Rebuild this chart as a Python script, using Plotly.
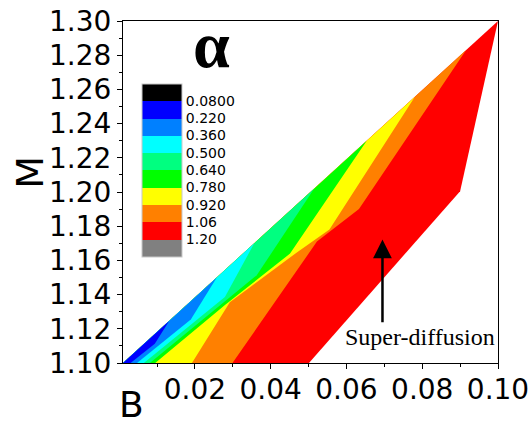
import plotly.graph_objects as go

# ---- contour levels / legend ----
levels = [0.08, 0.22, 0.36, 0.50, 0.64, 0.78, 0.92, 1.06, 1.20]
level_labels = ['0.0800', '0.220', '0.360', '0.500', '0.640', '0.780', '0.920', '1.06', '1.20']
band_colors = ['#000000', '#0000ff', '#0080ff', '#00ffff', '#00ff80',
               '#00ff00', '#ffff00', '#ff8000', '#ff0000', '#808080']

# ---- data domain (B, M) ----
domain_B = [0.001, 0.0501, 0.0900, 0.100]
domain_M = [1.10, 1.10, 1.2005, 1.30]

# ---- iso-alpha lines (B, M), bottom -> upper edge ----
iso_022_B = [0.0030, 0.0094, 0.01318]
iso_022_M = [1.10, 1.1113, 1.1246]
iso_036_B = [0.0047, 0.0189, 0.02575]
iso_036_M = [1.10, 1.1255, 1.150]
iso_050_B = [0.0065, 0.0279, 0.03565]
iso_050_M = [1.10, 1.1386, 1.170]
iso_064_B = [0.0081, 0.0363, 0.05149]
iso_064_M = [1.10, 1.1513, 1.202]
iso_078_B = [0.0095, 0.0280, 0.0451, 0.06535]
iso_078_M = [1.10, 1.134, 1.164, 1.230]
iso_092_B = [0.0192, 0.0292, 0.0468, 0.0555, 0.07802]
iso_092_M = [1.10, 1.1355, 1.1645, 1.178, 1.2556]
iso_106_B = [0.0299, 0.0522, 0.0633, 0.09159]
iso_106_M = [1.10, 1.171, 1.190, 1.283]

x_ticks = [0.02, 0.04, 0.06, 0.08, 0.10]
x_ticktext = ['0.02', '0.04', '0.06', '0.08', '0.10']
y_ticks = [1.10, 1.12, 1.14, 1.16, 1.18, 1.20, 1.22, 1.24, 1.26, 1.28, 1.30]
y_ticktext = ['%.2f' % v for v in y_ticks]

fig = go.Figure()

# whole domain: highest band (red)
fig.add_trace(go.Scatter(x=domain_B + [domain_B[0]], y=domain_M + [domain_M[0]],
                         mode='lines', fill='toself', fillcolor=band_colors[8],
                         line=dict(width=0, color=band_colors[8]),
                         hoverinfo='skip', showlegend=False))

isolines = [(7, iso_106_B, iso_106_M), (6, iso_092_B, iso_092_M),
            (5, iso_078_B, iso_078_M), (4, iso_064_B, iso_064_M),
            (3, iso_050_B, iso_050_M), (2, iso_036_B, iso_036_M),
            (1, iso_022_B, iso_022_M)]
cB, cM = domain_B[0], domain_M[0]
for idx, bs, ms in isolines:
    fig.add_trace(go.Scatter(x=[cB] + bs + [cB], y=[cM] + ms + [cM],
                             mode='lines', fill='toself', fillcolor=band_colors[idx],
                             line=dict(width=0, color=band_colors[idx]),
                             hoverinfo='skip', showlegend=False))

# legend as a colorbar (low values at the top, as in the original)
n = len(band_colors)
lo = -(levels[-1] + 0.14)
hi = -(levels[0] - 0.14)
cs = []
for i, c in enumerate(reversed(band_colors)):
    cs.append([i / n, c])
    cs.append([(i + 1) / n, c])
fig.add_trace(go.Scatter(x=[None], y=[None], mode='markers',
                         marker=dict(color=[-0.5], colorscale=cs, cmin=lo, cmax=hi,
                                     showscale=True,
                                     colorbar=dict(x=0.0506, xanchor='left', xpad=0,
                                                   y=0.5643, yanchor='middle', ypad=0,
                                                   len=172.7, lenmode='pixels',
                                                   thickness=40, thicknessmode='pixels',
                                                   outlinewidth=1, outlinecolor='#c8c8c8',
                                                   tickmode='array',
                                                   tickvals=[-v for v in levels],
                                                   ticktext=level_labels, ticks='',
                                                   tickfont=dict(family='DejaVu Sans', size=14,
                                                                 color='black'))),
                         hoverinfo='skip', showlegend=False))

axis_common = dict(showline=True, linecolor='black', linewidth=1, mirror=True,
                   ticks='outside', ticklen=5, tickwidth=1, tickcolor='black',
                   showgrid=False, zeroline=False, automargin=False,
                   tickfont=dict(family='DejaVu Sans', size=28, color='black'))

fig.update_xaxes(range=[0.001, 0.1], tickmode='array', tickvals=x_ticks, ticktext=x_ticktext,
                 ticklabelstandoff=-4,
                 minor=dict(tickmode='linear', tick0=0, dtick=0.01, ticks='outside',
                            ticklen=3, tickcolor='black'),
                 **axis_common)
fig.update_yaxes(range=[1.10, 1.30], tickmode='array', tickvals=y_ticks, ticktext=y_ticktext,
                 minor=dict(tickmode='linear', tick0=1.10, dtick=0.01, ticks='outside',
                            ticklen=3, tickcolor='black'),
                 **axis_common)

annotations = [
    dict(text='<b>α</b>', x=0.2373, y=0.931, xref='paper', yref='paper',
         xanchor='center', yanchor='middle', showarrow=False,
         font=dict(family='Liberation Serif', size=66, color='black')),
    dict(text='Super-diffusion', x=0.0794, y=1.1151, xref='x', yref='y',
         xanchor='center', yanchor='middle', showarrow=False,
         font=dict(family='Liberation Serif', size=24, color='black')),
    dict(text='', x=0.0695, y=1.1722, xref='x', yref='y',
         ax=0.0695, ay=1.1230, axref='x', ayref='y', showarrow=True,
         arrowhead=2, arrowsize=1.5, arrowwidth=2.5, arrowcolor='black'),
    dict(text='M', x=-0.2484, y=0.559, xref='paper', yref='paper', textangle=-90,
         xanchor='center', yanchor='middle', showarrow=False,
         font=dict(family='DejaVu Sans', size=38, color='black')),
    dict(text='B', x=0.0221, y=-0.1225, xref='paper', yref='paper',
         xanchor='center', yanchor='middle', showarrow=False,
         font=dict(family='DejaVu Sans', size=36, color='black')),
]

fig.update_layout(width=531, height=426,
                  margin=dict(l=123, r=33, t=21, b=63, autoexpand=False),
                  paper_bgcolor='white', plot_bgcolor='white',
                  font=dict(family='DejaVu Sans', color='black'),
                  annotations=annotations, showlegend=False)

fig.write_html('out.html', config={'displayModeBar': False},
               post_script="document.body.style.margin='0px';"
                           "document.body.style.overflow='hidden';")
